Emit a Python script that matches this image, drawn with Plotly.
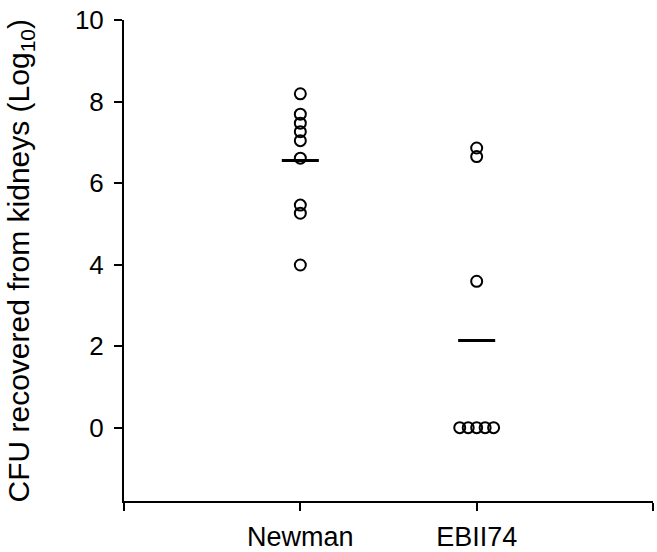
import plotly.graph_objects as go

# ---- data ----
groups = ["Newman", "EBII74"]
newman_log_cfu = [8.19, 7.69, 7.47, 7.26, 7.04, 6.61, 5.46, 5.26, 3.99]
ebii74_log_cfu = [6.86, 6.65, 3.59, 0, 0, 0, 0, 0]
y_tick_values = [0, 2, 4, 6, 8, 10]
y_title = "CFU recovered from kidneys (Log<sub>10</sub>)"

series = [newman_log_cfu, ebii74_log_cfu]

FONT = "Liberation Sans, Arial, Helvetica, sans-serif"
TIE_SPACING = 0.048   # horizontal spread for identical values
MEAN_HALF = 0.105     # half-width of the mean bar

W, H = 657, 552
ML, MR, MT, MB = 124, 4, 20, 51
plot_w = W - ML - MR

fig = go.Figure()

for gi, values in enumerate(series):
    center = gi + 1
    counts = {}
    for v in values:
        counts[v] = counts.get(v, 0) + 1
    seen = {}
    xs = []
    for v in values:
        n = counts[v]
        k = seen.get(v, 0)
        seen[v] = k + 1
        xs.append(center + (k - (n - 1) / 2) * TIE_SPACING)
    fig.add_trace(go.Scatter(
        x=xs, y=values, mode="markers",
        marker=dict(symbol="circle-open", size=11, color="black",
                    line=dict(width=2, color="black")),
        showlegend=False, hoverinfo="y"))
    mean = sum(values) / len(values)
    fig.add_trace(go.Scatter(
        x=[center - MEAN_HALF, center + MEAN_HALF], y=[mean, mean],
        mode="lines", line=dict(color="black", width=3),
        showlegend=False, hoverinfo="skip"))

fig.add_annotation(
    text=y_title, textangle=-90,
    xref="paper", yref="paper",
    x=-104 / plot_w, y=0.5,
    xanchor="center", yanchor="middle",
    showarrow=False,
    font=dict(family=FONT, size=30, color="black"),
)

fig.update_layout(
    width=W, height=H,
    margin=dict(l=ML, r=MR, t=MT, b=MB),
    paper_bgcolor="white", plot_bgcolor="white",
    font=dict(family=FONT, size=27, color="black"),
    xaxis=dict(
        range=[0, 3],
        tickvals=[0, 1, 2, 3],
        ticktext=[""] + groups + [""],
        showgrid=False, zeroline=False,
        showline=True, linecolor="black", linewidth=2,
        ticks="outside", ticklen=8, tickwidth=2, tickcolor="black",
        ticklabelstandoff=3,
        ticklabeloverflow="allow",
        automargin=False,
        tickfont=dict(family=FONT, size=27, color="black"),
    ),
    yaxis=dict(
        range=[-1.8, 10],
        tickvals=y_tick_values,
        showgrid=False, zeroline=False,
        showline=True, linecolor="black", linewidth=2,
        ticks="outside", ticklen=8, tickwidth=2, tickcolor="black",
        ticklabelstandoff=5,
        ticklabeloverflow="allow",
        automargin=False,
        tickfont=dict(family=FONT, size=26, color="black"),
    ),
)

# remove the browser's default 8px body margin so the figure sits at (0, 0)
fig.write_html("out.html",
               config={"displayModeBar": False},
               post_script="document.body.style.margin='0';")
